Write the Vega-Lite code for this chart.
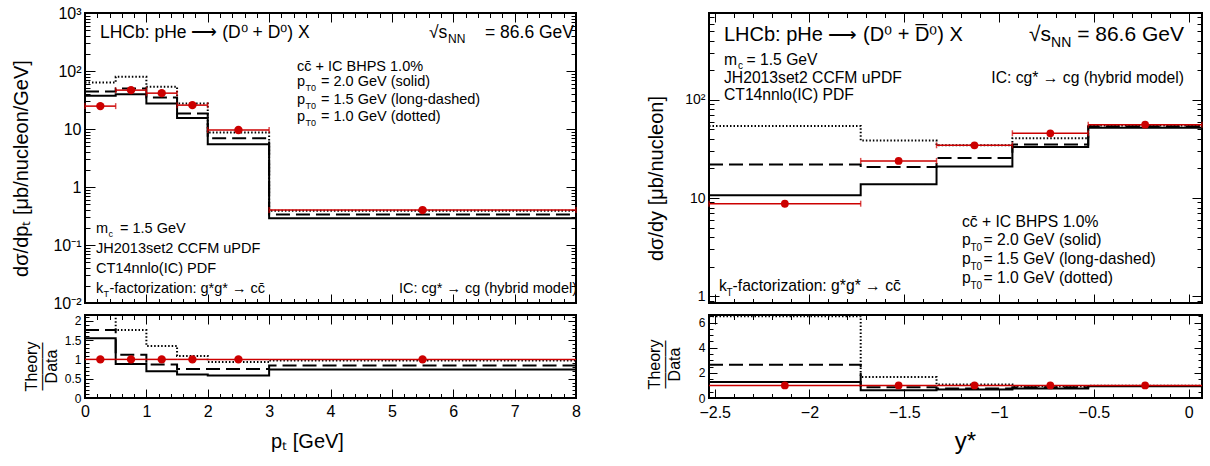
{
"$schema": "https://vega.github.io/schema/vega-lite/v6.json",
"background": "white",
"padding": {"left": 10, "top": 4, "right": 5, "bottom": 5},
"config": {
  "font": "Liberation Sans",
  "view": {"stroke": "black", "strokeWidth": 2},
  "axis": {"domain": false, "grid": false, "tickColor": "black", "tickWidth": 1, "labelColor": "black", "titleColor": "black", "titleFontWeight": "normal", "labelOverlap": false, "labelFlush": false, "labelBound": false, "labelFont": "Liberation Sans", "titleFont": "Liberation Sans"}
},
"datasets": {
  "one": [{}],
  "ptTheory": [
    {"model":"solid","x":0,"v":37.3},{"model":"solid","x":0.5,"v":39.9},{"model":"solid","x":1,"v":27.5},{"model":"solid","x":1.5,"v":15.4},{"model":"solid","x":2,"v":5.46},{"model":"solid","x":3,"v":0.29},{"model":"solid","x":8,"v":0.29},
    {"model":"dashed","x":0,"v":44.3},{"model":"dashed","x":0.5,"v":49.9},{"model":"dashed","x":1,"v":34.8},{"model":"dashed","x":1.5,"v":18.5},{"model":"dashed","x":2,"v":6.9},{"model":"dashed","x":3,"v":0.335},{"model":"dashed","x":8,"v":0.335},
    {"model":"dotted","x":0,"v":63.4},{"model":"dotted","x":0.5,"v":79.4},{"model":"dotted","x":1,"v":53.3},{"model":"dotted","x":1.5,"v":27.5},{"model":"dotted","x":2,"v":8.7},{"model":"dotted","x":3,"v":0.39},{"model":"dotted","x":8,"v":0.39}
  ],
  "ptData": [
    {"x":0.25,"lo":0,"hi":0.5,"v":24.8,"vlo":23.3,"vhi":26.3},
    {"x":0.75,"lo":0.5,"hi":1,"v":46.8,"vlo":44.6,"vhi":49.0},
    {"x":1.25,"lo":1,"hi":1.5,"v":41.5,"vlo":39.5,"vhi":43.5},
    {"x":1.75,"lo":1.5,"hi":2,"v":25.8,"vlo":24.5,"vhi":27.1},
    {"x":2.5,"lo":2,"hi":3,"v":9.6,"vlo":9.1,"vhi":10.1},
    {"x":5.5,"lo":3,"hi":8,"v":0.40,"vlo":0.38,"vhi":0.42}
  ],
  "ptRatio": [
    {"model":"solid","x":0,"v":1.55},{"model":"solid","x":0.5,"v":0.88},{"model":"solid","x":1,"v":0.69},{"model":"solid","x":1.5,"v":0.61},{"model":"solid","x":2,"v":0.58},{"model":"solid","x":3,"v":0.74},{"model":"solid","x":8,"v":0.74},
    {"model":"dashed","x":0,"v":1.76},{"model":"dashed","x":0.5,"v":1.12},{"model":"dashed","x":1,"v":0.87},{"model":"dashed","x":1.5,"v":0.75},{"model":"dashed","x":2,"v":0.75},{"model":"dashed","x":3,"v":0.84},{"model":"dashed","x":8,"v":0.84},
    {"model":"dotted","x":0,"v":2.55},{"model":"dotted","x":0.5,"v":1.76},{"model":"dotted","x":1,"v":1.35},{"model":"dotted","x":1.5,"v":1.09},{"model":"dotted","x":2,"v":0.93},{"model":"dotted","x":3,"v":0.97},{"model":"dotted","x":8,"v":0.97}
  ],
  "ptRatioData": [
    {"x":0.25,"lo":0,"hi":0.5,"r":1},{"x":0.75,"lo":0.5,"hi":1,"r":1},{"x":1.25,"lo":1,"hi":1.5,"r":1},
    {"x":1.75,"lo":1.5,"hi":2,"r":1},{"x":2.5,"lo":2,"hi":3,"r":1},{"x":5.5,"lo":3,"hi":8,"r":1}
  ],
  "yTheory": [
    {"model":"solid","x":-2.53,"v":10.7},{"model":"solid","x":-1.73,"v":13.8},{"model":"solid","x":-1.33,"v":21.0},{"model":"solid","x":-0.93,"v":33.2},{"model":"solid","x":-0.53,"v":52.2},{"model":"solid","x":0.07,"v":52.2},
    {"model":"dashed","x":-2.53,"v":21.9},{"model":"dashed","x":-1.73,"v":20.7},{"model":"dashed","x":-1.33,"v":25.6},{"model":"dashed","x":-0.93,"v":35.2},{"model":"dashed","x":-0.53,"v":54.0},{"model":"dashed","x":0.07,"v":54.0},
    {"model":"dotted","x":-2.53,"v":54.3},{"model":"dotted","x":-1.73,"v":38.5},{"model":"dotted","x":-1.33,"v":34.5},{"model":"dotted","x":-0.93,"v":40.6},{"model":"dotted","x":-0.53,"v":55.0},{"model":"dotted","x":0.07,"v":55.0}
  ],
  "yData": [
    {"x":-2.13,"lo":-2.53,"hi":-1.73,"v":8.75,"vlo":8.0,"vhi":9.5},
    {"x":-1.53,"lo":-1.73,"hi":-1.33,"v":23.9,"vlo":22.8,"vhi":25.0},
    {"x":-1.13,"lo":-1.33,"hi":-0.93,"v":34.5,"vlo":33.0,"vhi":36.0},
    {"x":-0.73,"lo":-0.93,"hi":-0.53,"v":45.7,"vlo":43.8,"vhi":47.6},
    {"x":-0.23,"lo":-0.53,"hi":0.07,"v":56.0,"vlo":53.8,"vhi":58.2}
  ],
  "yRatio": [
    {"model":"solid","x":-2.53,"v":1.28},{"model":"solid","x":-1.73,"v":0.62},{"model":"solid","x":-1.33,"v":0.67},{"model":"solid","x":-0.93,"v":0.75},{"model":"solid","x":-0.53,"v":0.94},{"model":"solid","x":0.07,"v":0.94},
    {"model":"dashed","x":-2.53,"v":2.65},{"model":"dashed","x":-1.73,"v":0.86},{"model":"dashed","x":-1.33,"v":0.75},{"model":"dashed","x":-0.93,"v":0.86},{"model":"dashed","x":-0.53,"v":0.96},{"model":"dashed","x":0.07,"v":0.96},
    {"model":"dotted","x":-2.53,"v":6.5},{"model":"dotted","x":-1.73,"v":1.67},{"model":"dotted","x":-1.33,"v":1.08},{"model":"dotted","x":-0.93,"v":0.94},{"model":"dotted","x":-0.53,"v":0.98},{"model":"dotted","x":0.07,"v":0.98}
  ],
  "yRatioData": [
    {"x":-2.13,"lo":-2.53,"hi":-1.73,"r":1},{"x":-1.53,"lo":-1.73,"hi":-1.33,"r":1},{"x":-1.13,"lo":-1.33,"hi":-0.93,"r":1},
    {"x":-0.73,"lo":-0.93,"hi":-0.53,"r":1},{"x":-0.23,"lo":-0.53,"hi":0.07,"r":1}
  ]
},
"columns": 2,
"spacing": {"row": 12, "column": 133},
"bounds": "flush",
"concat": [
  {"width": 491, "height": 290,
   "resolve": {"axis": {"x": "independent", "y": "independent"}},
   "layer": [
    {"data": {"name": "ptTheory"},
     "mark": {"type": "line", "interpolate": "step-after", "clip": true, "stroke": "black"},
     "encoding": {
       "x": {"field": "x", "type": "quantitative", "scale": {"domain": [0, 8], "nice": false, "zero": false},
             "axis": {"orient": "bottom", "values": [0,0.2,0.4,0.6,0.8,1,1.2,1.4,1.6,1.8,2,2.2,2.4,2.6,2.8,3,3.2,3.4,3.6,3.8,4,4.2,4.4,4.6,4.8,5,5.2,5.4,5.6,5.8,6,6.2,6.4,6.6,6.8,7,7.2,7.4,7.6,7.8,8], "labels": false, "title": null,
                      "tickSize": {"condition": {"test": "datum.value % 1 == 0", "value": -9}, "value": -4.5}}},
       "y": {"field": "v", "type": "quantitative", "scale": {"type": "log", "domain": [0.01, 1000], "nice": false},
             "axis": {"orient": "left", "values": [0.01,0.02,0.03,0.04,0.05,0.06,0.07,0.08,0.09,0.1,0.2,0.3,0.4,0.5,0.6,0.7,0.8,0.9,1,2,3,4,5,6,7,8,9,10,20,30,40,50,60,70,80,90,100,200,300,400,500,600,700,800,900,1000],
                      "labelExpr": "datum.value == 1000 ? '10³' : datum.value == 100 ? '10²' : datum.value == 10 ? '10' : datum.value == 1 ? '1' : datum.value == 0.1 ? '10⁻¹' : datum.value == 0.01 ? '10⁻²' : ''",
                      "labelFontSize": 16, "labelPadding": 14,
                      "tickSize": {"condition": {"test": "indexof([0.01,0.1,1,10,100,1000], datum.value) >= 0", "value": -10}, "value": -5},
                      "title": "dσ/dpₜ  [μb/nucleon/GeV]", "titleFontSize": 20, "titleX": -64, "titleY": 155, "titleAngle": -90, "titleAlign": "center", "titleBaseline": "middle"}},
       "strokeDash": {"field": "model", "type": "nominal", "scale": {"domain": ["solid","dashed","dotted"], "range": [[1,0],[14,6],[1.5,2]]}, "legend": null},
       "strokeWidth": {"field": "model", "type": "ordinal", "scale": {"domain": ["solid","dashed","dotted"], "range": [2,2,1.3]}, "legend": null}
     }},
    {"data": {"name": "ptData"}, "mark": {"type": "rule", "color": "#cc0000", "strokeWidth": 1.5},
     "encoding": {"x": {"field": "lo", "type": "quantitative", "axis": null}, "x2": {"field": "hi"}, "y": {"field": "v", "type": "quantitative", "axis": null}}},
    {"data": {"name": "ptData"}, "mark": {"type": "rule", "color": "#cc0000", "strokeWidth": 1.5},
     "encoding": {"x": {"field": "x", "type": "quantitative", "axis": null}, "y": {"field": "vlo", "type": "quantitative", "axis": null}, "y2": {"field": "vhi"}}},
    {"data": {"name": "ptData"}, "mark": {"type": "tick", "orient": "vertical", "size": 6, "thickness": 1.5, "color": "#cc0000"},
     "encoding": {"x": {"field": "lo", "type": "quantitative", "axis": null}, "y": {"field": "v", "type": "quantitative", "axis": null}}},
    {"data": {"name": "ptData"}, "mark": {"type": "tick", "orient": "vertical", "size": 6, "thickness": 1.5, "color": "#cc0000"},
     "encoding": {"x": {"field": "hi", "type": "quantitative", "axis": null}, "y": {"field": "v", "type": "quantitative", "axis": null}}},
    {"data": {"name": "ptData"}, "mark": {"type": "circle", "color": "#cc0000", "opacity": 1, "size": 70},
     "encoding": {"x": {"field": "x", "type": "quantitative", "axis": null}, "y": {"field": "v", "type": "quantitative", "axis": null}}},
    {"data": {"name": "ptTheory"}, "mark": {"type": "point", "opacity": 0},
     "encoding": {
       "x": {"field": "x", "type": "quantitative", "axis": {"orient": "top", "values": [0,0.2,0.4,0.6,0.8,1,1.2,1.4,1.6,1.8,2,2.2,2.4,2.6,2.8,3,3.2,3.4,3.6,3.8,4,4.2,4.4,4.6,4.8,5,5.2,5.4,5.6,5.8,6,6.2,6.4,6.6,6.8,7,7.2,7.4,7.6,7.8,8], "labels": false, "title": null,
                      "tickSize": {"condition": {"test": "datum.value % 1 == 0", "value": -9}, "value": -4.5}}},
       "y": {"field": "v", "type": "quantitative", "axis": {"orient": "right", "values": [0.01,0.02,0.03,0.04,0.05,0.06,0.07,0.08,0.09,0.1,0.2,0.3,0.4,0.5,0.6,0.7,0.8,0.9,1,2,3,4,5,6,7,8,9,10,20,30,40,50,60,70,80,90,100,200,300,400,500,600,700,800,900,1000], "labels": false, "title": null,
                      "tickSize": {"condition": {"test": "indexof([0.01,0.1,1,10,100,1000], datum.value) >= 0", "value": -10}, "value": -5}}}
     }},
    {"data": {"name": "one"}, "mark": {"type": "text", "text": "LHCb: pHe ⟶ (D⁰ + D⁰) X", "align": "left", "baseline": "alphabetic", "fontSize": 17.5},
     "encoding": {"x": {"datum": 0.244, "type": "quantitative", "axis": null}, "y": {"datum": 371, "type": "quantitative", "axis": null}}},
    {"data": {"name": "one"}, "mark": {"type": "text", "text": "√s", "align": "left", "baseline": "alphabetic", "fontSize": 17.5},
     "encoding": {"x": {"datum": 5.605, "type": "quantitative", "axis": null}, "y": {"datum": 371, "type": "quantitative", "axis": null}}},
    {"data": {"name": "one"}, "mark": {"type": "text", "text": "NN", "align": "left", "baseline": "alphabetic", "fontSize": 12, "dx": 19, "dy": 5},
     "encoding": {"x": {"datum": 5.605, "type": "quantitative", "axis": null}, "y": {"datum": 371, "type": "quantitative", "axis": null}}},
    {"data": {"name": "one"}, "mark": {"type": "text", "text": "=  86.6 GeV", "align": "right", "baseline": "alphabetic", "fontSize": 17.5, "dx": -2},
     "encoding": {"x": {"datum": 8, "type": "quantitative", "axis": null}, "y": {"datum": 371, "type": "quantitative", "axis": null}}},
    {"data": {"name": "one"}, "mark": {"type": "text", "text": "cc̄ + IC BHPS 1.0%", "align": "left", "baseline": "alphabetic", "fontSize": 14.5},
     "encoding": {"x": {"datum": 3.454, "type": "quantitative", "axis": null}, "y": {"datum": 102, "type": "quantitative", "axis": null}}},
    {"data": {"name": "one"}, "mark": {"type": "text", "text": ["p", "p", "p"], "align": "left", "baseline": "alphabetic", "fontSize": 14.5, "lineHeight": 17.5},
     "encoding": {"x": {"datum": 3.454, "type": "quantitative", "axis": null}, "y": {"datum": 54.1, "type": "quantitative", "axis": null}}},
    {"data": {"name": "one"}, "mark": {"type": "text", "text": ["T0", "T0", "T0"], "align": "left", "baseline": "alphabetic", "fontSize": 9, "lineHeight": 17.5, "dx": 8.5, "dy": 5},
     "encoding": {"x": {"datum": 3.454, "type": "quantitative", "axis": null}, "y": {"datum": 54.1, "type": "quantitative", "axis": null}}},
    {"data": {"name": "one"}, "mark": {"type": "text", "text": ["= 2.0 GeV (solid)", "= 1.5 GeV (long-dashed)", "= 1.0 GeV (dotted)"], "align": "left", "baseline": "alphabetic", "fontSize": 14.5, "lineHeight": 17.5, "dx": 24},
     "encoding": {"x": {"datum": 3.454, "type": "quantitative", "axis": null}, "y": {"datum": 54.1, "type": "quantitative", "axis": null}}},
    {"data": {"name": "one"}, "mark": {"type": "text", "text": "m", "align": "left", "baseline": "alphabetic", "fontSize": 14.5},
     "encoding": {"x": {"datum": 0.179, "type": "quantitative", "axis": null}, "y": {"datum": 0.158, "type": "quantitative", "axis": null}}},
    {"data": {"name": "one"}, "mark": {"type": "text", "text": ["JH2013set2 CCFM uPDF", "CT14nnlo(IC) PDF"], "align": "left", "baseline": "alphabetic", "fontSize": 14.5, "lineHeight": 19.7},
     "encoding": {"x": {"datum": 0.179, "type": "quantitative", "axis": null}, "y": {"datum": 0.07222, "type": "quantitative", "axis": null}}},
    {"data": {"name": "one"}, "mark": {"type": "text", "text": "c", "align": "left", "baseline": "alphabetic", "fontSize": 9, "dx": 12.5, "dy": 4},
     "encoding": {"x": {"datum": 0.179, "type": "quantitative", "axis": null}, "y": {"datum": 0.158, "type": "quantitative", "axis": null}}},
    {"data": {"name": "one"}, "mark": {"type": "text", "text": "= 1.5 GeV", "align": "left", "baseline": "alphabetic", "fontSize": 14.5, "dx": 24},
     "encoding": {"x": {"datum": 0.179, "type": "quantitative", "axis": null}, "y": {"datum": 0.158, "type": "quantitative", "axis": null}}},
    {"data": {"name": "one"}, "mark": {"type": "text", "text": "k", "align": "left", "baseline": "alphabetic", "fontSize": 14.5},
     "encoding": {"x": {"datum": 0.179, "type": "quantitative", "axis": null}, "y": {"datum": 0.01517, "type": "quantitative", "axis": null}}},
    {"data": {"name": "one"}, "mark": {"type": "text", "text": "T", "align": "left", "baseline": "alphabetic", "fontSize": 9, "dx": 7.5, "dy": 4},
     "encoding": {"x": {"datum": 0.179, "type": "quantitative", "axis": null}, "y": {"datum": 0.01517, "type": "quantitative", "axis": null}}},
    {"data": {"name": "one"}, "mark": {"type": "text", "text": "-factorization: g*g* → cc̄", "align": "left", "baseline": "alphabetic", "fontSize": 14.5, "dx": 13.5},
     "encoding": {"x": {"datum": 0.179, "type": "quantitative", "axis": null}, "y": {"datum": 0.01517, "type": "quantitative", "axis": null}}},
    {"data": {"name": "one"}, "mark": {"type": "text", "text": "IC: cg* → cg (hybrid model)", "align": "right", "baseline": "alphabetic", "fontSize": 14.5, "dx": 1},
     "encoding": {"x": {"datum": 8, "type": "quantitative", "axis": null}, "y": {"datum": 0.01517, "type": "quantitative", "axis": null}}}
   ]},
  {"width": 493, "height": 290,
   "resolve": {"axis": {"x": "independent", "y": "independent"}},
   "layer": [
    {"data": {"name": "yTheory"},
     "mark": {"type": "line", "interpolate": "step-after", "clip": true, "stroke": "black"},
     "encoding": {
       "x": {"field": "x", "type": "quantitative", "scale": {"domain": [-2.53, 0.07], "nice": false, "zero": false},
             "axis": {"orient": "bottom", "values": [-2.5,-2.4,-2.3,-2.2,-2.1,-2,-1.9,-1.8,-1.7,-1.6,-1.5,-1.4,-1.3,-1.2,-1.1,-1,-0.9,-0.8,-0.7,-0.6,-0.5,-0.4,-0.3,-0.2,-0.1,0], "labels": false, "title": null,
                      "tickSize": {"condition": {"test": "abs(datum.value * 2 - round(datum.value * 2)) < 0.000001", "value": -9}, "value": -4.5}}},
       "y": {"field": "v", "type": "quantitative", "scale": {"type": "log", "domain": [0.85, 770], "nice": false},
             "axis": {"orient": "left", "values": [0.9,1,2,3,4,5,6,7,8,9,10,20,30,40,50,60,70,80,90,100,200,300,400,500,600,700],
                      "labelExpr": "datum.value == 100 ? '10²' : datum.value == 10 ? '10' : datum.value == 1 ? '1' : ''",
                      "labelFontSize": 14, "labelPadding": 14,
                      "tickSize": {"condition": {"test": "indexof([1,10,100], datum.value) >= 0", "value": -10}, "value": -5},
                      "title": "dσ/dy  [μb/nucleon]", "titleFontSize": 20, "titleX": -53, "titleY": 165, "titleAngle": -90, "titleAlign": "center", "titleBaseline": "middle"}},
       "strokeDash": {"field": "model", "type": "nominal", "scale": {"domain": ["solid","dashed","dotted"], "range": [[1,0],[14,6],[1.5,2]]}, "legend": null},
       "strokeWidth": {"field": "model", "type": "ordinal", "scale": {"domain": ["solid","dashed","dotted"], "range": [2,2,1.3]}, "legend": null}
     }},
    {"data": {"name": "yData"}, "mark": {"type": "rule", "color": "#cc0000", "strokeWidth": 1.5},
     "encoding": {"x": {"field": "lo", "type": "quantitative", "axis": null}, "x2": {"field": "hi"}, "y": {"field": "v", "type": "quantitative", "axis": null}}},
    {"data": {"name": "yData"}, "mark": {"type": "rule", "color": "#cc0000", "strokeWidth": 1.5},
     "encoding": {"x": {"field": "x", "type": "quantitative", "axis": null}, "y": {"field": "vlo", "type": "quantitative", "axis": null}, "y2": {"field": "vhi"}}},
    {"data": {"name": "yData"}, "mark": {"type": "tick", "orient": "vertical", "size": 6, "thickness": 1.5, "color": "#cc0000"},
     "encoding": {"x": {"field": "lo", "type": "quantitative", "axis": null}, "y": {"field": "v", "type": "quantitative", "axis": null}}},
    {"data": {"name": "yData"}, "mark": {"type": "tick", "orient": "vertical", "size": 6, "thickness": 1.5, "color": "#cc0000"},
     "encoding": {"x": {"field": "hi", "type": "quantitative", "axis": null}, "y": {"field": "v", "type": "quantitative", "axis": null}}},
    {"data": {"name": "yData"}, "mark": {"type": "circle", "color": "#cc0000", "opacity": 1, "size": 60},
     "encoding": {"x": {"field": "x", "type": "quantitative", "axis": null}, "y": {"field": "v", "type": "quantitative", "axis": null}}},
    {"data": {"name": "yTheory"}, "mark": {"type": "point", "opacity": 0},
     "encoding": {
       "x": {"field": "x", "type": "quantitative", "axis": {"orient": "top", "values": [-2.5,-2.4,-2.3,-2.2,-2.1,-2,-1.9,-1.8,-1.7,-1.6,-1.5,-1.4,-1.3,-1.2,-1.1,-1,-0.9,-0.8,-0.7,-0.6,-0.5,-0.4,-0.3,-0.2,-0.1,0], "labels": false, "title": null,
                      "tickSize": {"condition": {"test": "abs(datum.value * 2 - round(datum.value * 2)) < 0.000001", "value": -9}, "value": -4.5}}},
       "y": {"field": "v", "type": "quantitative", "axis": {"orient": "right", "values": [0.9,1,2,3,4,5,6,7,8,9,10,20,30,40,50,60,70,80,90,100,200,300,400,500,600,700], "labels": false, "title": null,
                      "tickSize": {"condition": {"test": "indexof([1,10,100], datum.value) >= 0", "value": -10}, "value": -5}}}
     }},
    {"data": {"name": "one"}, "mark": {"type": "text", "text": "LHCb: pHe ⟶ (D⁰ + D̅⁰) X", "align": "left", "baseline": "alphabetic", "fontSize": 20},
     "encoding": {"x": {"datum": -2.451, "type": "quantitative", "axis": null}, "y": {"datum": 400, "type": "quantitative", "axis": null}}},
    {"data": {"name": "one"}, "mark": {"type": "text", "text": "√s", "align": "left", "baseline": "alphabetic", "fontSize": 21},
     "encoding": {"x": {"datum": -0.842, "type": "quantitative", "axis": null}, "y": {"datum": 400, "type": "quantitative", "axis": null}}},
    {"data": {"name": "one"}, "mark": {"type": "text", "text": "NN", "align": "left", "baseline": "alphabetic", "fontSize": 14, "dx": 22, "dy": 6},
     "encoding": {"x": {"datum": -0.842, "type": "quantitative", "axis": null}, "y": {"datum": 400, "type": "quantitative", "axis": null}}},
    {"data": {"name": "one"}, "mark": {"type": "text", "text": "=  86.6 GeV", "align": "right", "baseline": "alphabetic", "fontSize": 21},
     "encoding": {"x": {"datum": -0.025, "type": "quantitative", "axis": null}, "y": {"datum": 400, "type": "quantitative", "axis": null}}},
    {"data": {"name": "one"}, "mark": {"type": "text", "text": "m", "align": "left", "baseline": "alphabetic", "fontSize": 15.7},
     "encoding": {"x": {"datum": -2.451, "type": "quantitative", "axis": null}, "y": {"datum": 224.9, "type": "quantitative", "axis": null}}},
    {"data": {"name": "one"}, "mark": {"type": "text", "text": ["JH2013set2 CCFM uPDF", "CT14nnlo(IC) PDF"], "align": "left", "baseline": "alphabetic", "fontSize": 15.7, "lineHeight": 17.5},
     "encoding": {"x": {"datum": -2.451, "type": "quantitative", "axis": null}, "y": {"datum": 149.1, "type": "quantitative", "axis": null}}},
    {"data": {"name": "one"}, "mark": {"type": "text", "text": "c", "align": "left", "baseline": "alphabetic", "fontSize": 10, "dx": 14, "dy": 4},
     "encoding": {"x": {"datum": -2.451, "type": "quantitative", "axis": null}, "y": {"datum": 224.9, "type": "quantitative", "axis": null}}},
    {"data": {"name": "one"}, "mark": {"type": "text", "text": "= 1.5 GeV", "align": "left", "baseline": "alphabetic", "fontSize": 15.7, "dx": 22.5},
     "encoding": {"x": {"datum": -2.451, "type": "quantitative", "axis": null}, "y": {"datum": 224.9, "type": "quantitative", "axis": null}}},
    {"data": {"name": "one"}, "mark": {"type": "text", "text": "IC: cg* → cg (hybrid model)", "align": "right", "baseline": "alphabetic", "fontSize": 15.7},
     "encoding": {"x": {"datum": -0.025, "type": "quantitative", "axis": null}, "y": {"datum": 147.4, "type": "quantitative", "axis": null}}},
    {"data": {"name": "one"}, "mark": {"type": "text", "text": "cc̄ + IC BHPS 1.0%", "align": "left", "baseline": "alphabetic", "fontSize": 15.7},
     "encoding": {"x": {"datum": -1.196, "type": "quantitative", "axis": null}, "y": {"datum": 5.12, "type": "quantitative", "axis": null}}},
    {"data": {"name": "one"}, "mark": {"type": "text", "text": ["p", "p", "p"], "align": "left", "baseline": "alphabetic", "fontSize": 15.7, "lineHeight": 19},
     "encoding": {"x": {"datum": -1.196, "type": "quantitative", "axis": null}, "y": {"datum": 3.354, "type": "quantitative", "axis": null}}},
    {"data": {"name": "one"}, "mark": {"type": "text", "text": ["T0", "T0", "T0"], "align": "left", "baseline": "alphabetic", "fontSize": 10, "lineHeight": 19, "dx": 8.5, "dy": 6},
     "encoding": {"x": {"datum": -1.196, "type": "quantitative", "axis": null}, "y": {"datum": 3.354, "type": "quantitative", "axis": null}}},
    {"data": {"name": "one"}, "mark": {"type": "text", "text": ["= 2.0 GeV (solid)", "= 1.5 GeV (long-dashed)", "= 1.0 GeV (dotted)"], "align": "left", "baseline": "alphabetic", "fontSize": 15.7, "lineHeight": 19, "dx": 21.5},
     "encoding": {"x": {"datum": -1.196, "type": "quantitative", "axis": null}, "y": {"datum": 3.354, "type": "quantitative", "axis": null}}},
    {"data": {"name": "one"}, "mark": {"type": "text", "text": "k", "align": "left", "baseline": "alphabetic", "fontSize": 15.7},
     "encoding": {"x": {"datum": -2.477, "type": "quantitative", "axis": null}, "y": {"datum": 1.138, "type": "quantitative", "axis": null}}},
    {"data": {"name": "one"}, "mark": {"type": "text", "text": "T", "align": "left", "baseline": "alphabetic", "fontSize": 10, "dx": 7.5, "dy": 5},
     "encoding": {"x": {"datum": -2.477, "type": "quantitative", "axis": null}, "y": {"datum": 1.138, "type": "quantitative", "axis": null}}},
    {"data": {"name": "one"}, "mark": {"type": "text", "text": "-factorization: g*g* → cc̄", "align": "left", "baseline": "alphabetic", "fontSize": 15.7, "dx": 13.5},
     "encoding": {"x": {"datum": -2.477, "type": "quantitative", "axis": null}, "y": {"datum": 1.138, "type": "quantitative", "axis": null}}}
   ]},
  {"width": 491, "height": 83,
   "resolve": {"axis": {"x": "independent", "y": "independent"}},
   "layer": [
    {"data": {"name": "ptRatio"},
     "mark": {"type": "line", "interpolate": "step-after", "clip": true, "stroke": "black"},
     "encoding": {
       "x": {"field": "x", "type": "quantitative", "scale": {"domain": [0, 8], "nice": false, "zero": false},
             "axis": {"orient": "bottom", "values": [0,0.2,0.4,0.6,0.8,1,1.2,1.4,1.6,1.8,2,2.2,2.4,2.6,2.8,3,3.2,3.4,3.6,3.8,4,4.2,4.4,4.6,4.8,5,5.2,5.4,5.6,5.8,6,6.2,6.4,6.6,6.8,7,7.2,7.4,7.6,7.8,8],
                      "labelExpr": "datum.value % 1 == 0 ? toString(datum.value) : ''", "labelFontSize": 16, "labelPadding": 14,
                      "tickSize": {"condition": {"test": "datum.value % 1 == 0", "value": -9}, "value": -4.5},
                      "title": "pₜ  [GeV]", "titleFontSize": 20, "titleX": 222, "titleY": 43, "titleAlign": "center", "titleBaseline": "middle"}},
       "y": {"field": "v", "type": "quantitative", "scale": {"domain": [0, 2.15], "nice": false, "zero": false},
             "axis": {"orient": "left", "values": [0,0.1,0.2,0.3,0.4,0.5,0.6,0.7,0.8,0.9,1,1.1,1.2,1.3,1.4,1.5,1.6,1.7,1.8,1.9,2,2.1],
                      "labelExpr": "(datum.value * 2) % 1 == 0 ? toString(datum.value) : ''", "labelFontSize": 12, "labelPadding": 12,
                      "tickSize": {"condition": {"test": "(datum.value * 2) % 1 == 0", "value": -8}, "value": -4},
                      "title": ["Theory", "———", "Data"], "titleFontSize": 16, "titleLineHeight": 10, "titleX": -54, "titleY": 51, "titleAngle": -90, "titleAlign": "center", "titleBaseline": "middle"}},
       "strokeDash": {"field": "model", "type": "nominal", "scale": {"domain": ["solid","dashed","dotted"], "range": [[1,0],[14,6],[1.5,2]]}, "legend": null},
       "strokeWidth": {"field": "model", "type": "ordinal", "scale": {"domain": ["solid","dashed","dotted"], "range": [2,2,1.3]}, "legend": null}
     }},
    {"data": {"name": "ptRatioData"}, "mark": {"type": "rule", "color": "#cc0000", "strokeWidth": 1.5},
     "encoding": {"x": {"field": "lo", "type": "quantitative", "axis": null}, "x2": {"field": "hi"}, "y": {"field": "r", "type": "quantitative", "axis": null}}},
    {"data": {"name": "ptRatioData"}, "mark": {"type": "circle", "color": "#cc0000", "opacity": 1, "size": 70},
     "encoding": {"x": {"field": "x", "type": "quantitative", "axis": null}, "y": {"field": "r", "type": "quantitative", "axis": null}}},
    {"data": {"name": "ptRatio"}, "mark": {"type": "point", "opacity": 0},
     "encoding": {
       "x": {"field": "x", "type": "quantitative", "axis": {"orient": "top", "values": [0,0.2,0.4,0.6,0.8,1,1.2,1.4,1.6,1.8,2,2.2,2.4,2.6,2.8,3,3.2,3.4,3.6,3.8,4,4.2,4.4,4.6,4.8,5,5.2,5.4,5.6,5.8,6,6.2,6.4,6.6,6.8,7,7.2,7.4,7.6,7.8,8], "labels": false, "title": null,
                      "tickSize": {"condition": {"test": "datum.value % 1 == 0", "value": -9}, "value": -4.5}}},
       "y": {"field": "v", "type": "quantitative", "axis": {"orient": "right", "values": [0,0.1,0.2,0.3,0.4,0.5,0.6,0.7,0.8,0.9,1,1.1,1.2,1.3,1.4,1.5,1.6,1.7,1.8,1.9,2,2.1], "labels": false, "title": null,
                      "tickSize": {"condition": {"test": "(datum.value * 2) % 1 == 0", "value": -8}, "value": -4}}}
     }}
   ]},
  {"width": 493, "height": 83,
   "resolve": {"axis": {"x": "independent", "y": "independent"}},
   "layer": [
    {"data": {"name": "yRatio"},
     "mark": {"type": "line", "interpolate": "step-after", "clip": true, "stroke": "black"},
     "encoding": {
       "x": {"field": "x", "type": "quantitative", "scale": {"domain": [-2.53, 0.07], "nice": false, "zero": false},
             "axis": {"orient": "bottom", "values": [-2.5,-2.4,-2.3,-2.2,-2.1,-2,-1.9,-1.8,-1.7,-1.6,-1.5,-1.4,-1.3,-1.2,-1.1,-1,-0.9,-0.8,-0.7,-0.6,-0.5,-0.4,-0.3,-0.2,-0.1,0],
                      "labelExpr": "abs(datum.value * 2 - round(datum.value * 2)) < 0.000001 ? replace(toString(datum.value), '-', '−') : ''", "labelFontSize": 16, "labelPadding": 15,
                      "tickSize": {"condition": {"test": "abs(datum.value * 2 - round(datum.value * 2)) < 0.000001", "value": -9}, "value": -4.5},
                      "title": "y*", "titleFontSize": 24, "titleX": 256, "titleY": 43, "titleAlign": "center", "titleBaseline": "middle"}},
       "y": {"field": "v", "type": "quantitative", "scale": {"domain": [0, 6.6], "nice": false, "zero": false},
             "axis": {"orient": "left", "values": [0,0.5,1,1.5,2,2.5,3,3.5,4,4.5,5,5.5,6,6.5],
                      "labelExpr": "datum.value % 2 == 0 ? toString(datum.value) : ''", "labelFontSize": 12, "labelPadding": 12,
                      "tickSize": {"condition": {"test": "datum.value % 2 == 0", "value": -8}, "value": -4},
                      "title": ["Theory", "———", "Data"], "titleFontSize": 16, "titleLineHeight": 10, "titleX": -55, "titleY": 49, "titleAngle": -90, "titleAlign": "center", "titleBaseline": "middle"}},
       "strokeDash": {"field": "model", "type": "nominal", "scale": {"domain": ["solid","dashed","dotted"], "range": [[1,0],[14,6],[1.5,2]]}, "legend": null},
       "strokeWidth": {"field": "model", "type": "ordinal", "scale": {"domain": ["solid","dashed","dotted"], "range": [2,2,1.3]}, "legend": null}
     }},
    {"data": {"name": "yRatioData"}, "mark": {"type": "rule", "color": "#cc0000", "strokeWidth": 1.5},
     "encoding": {"x": {"field": "lo", "type": "quantitative", "axis": null}, "x2": {"field": "hi"}, "y": {"field": "r", "type": "quantitative", "axis": null}}},
    {"data": {"name": "yRatioData"}, "mark": {"type": "circle", "color": "#cc0000", "opacity": 1, "size": 60},
     "encoding": {"x": {"field": "x", "type": "quantitative", "axis": null}, "y": {"field": "r", "type": "quantitative", "axis": null}}},
    {"data": {"name": "yRatio"}, "mark": {"type": "point", "opacity": 0},
     "encoding": {
       "x": {"field": "x", "type": "quantitative", "axis": {"orient": "top", "values": [-2.5,-2.4,-2.3,-2.2,-2.1,-2,-1.9,-1.8,-1.7,-1.6,-1.5,-1.4,-1.3,-1.2,-1.1,-1,-0.9,-0.8,-0.7,-0.6,-0.5,-0.4,-0.3,-0.2,-0.1,0], "labels": false, "title": null,
                      "tickSize": {"condition": {"test": "abs(datum.value * 2 - round(datum.value * 2)) < 0.000001", "value": -9}, "value": -4.5}}},
       "y": {"field": "v", "type": "quantitative", "axis": {"orient": "right", "values": [0,0.5,1,1.5,2,2.5,3,3.5,4,4.5,5,5.5,6,6.5], "labels": false, "title": null,
                      "tickSize": {"condition": {"test": "datum.value % 2 == 0", "value": -8}, "value": -4}}}
     }}
   ]}
]
}
